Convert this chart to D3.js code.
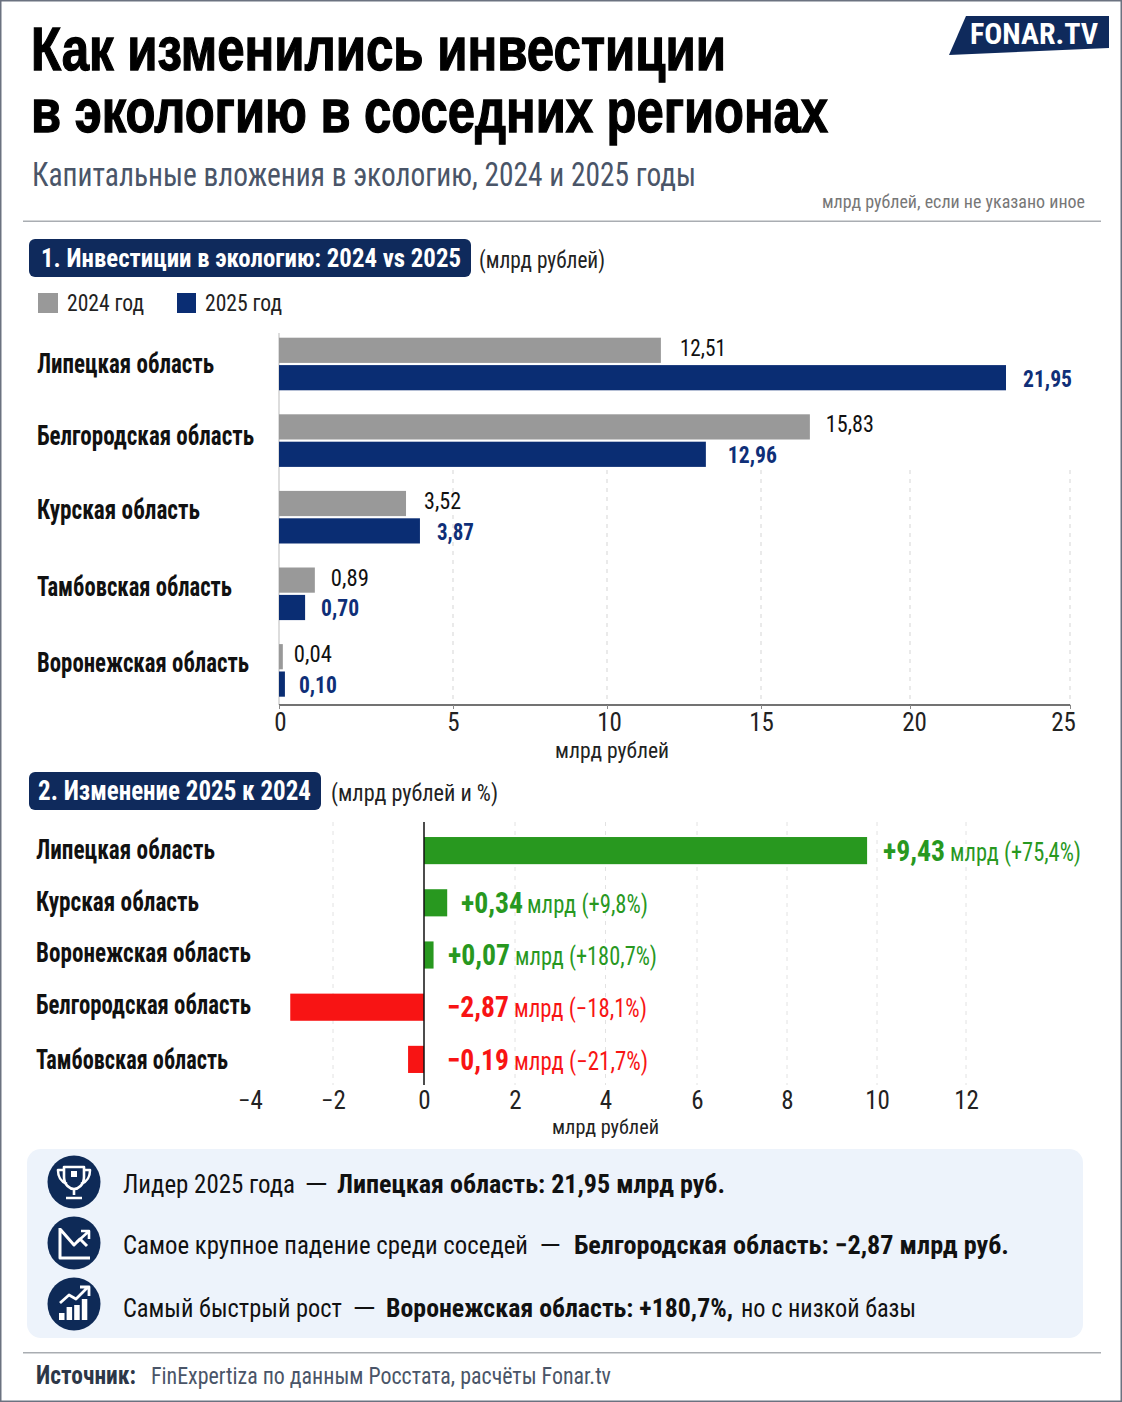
<!DOCTYPE html>
<html lang="ru"><head><meta charset="utf-8">
<script src="https://cdn.jsdelivr.net/npm/d3@7"></script>
<style>html,body{margin:0;background:#fff}svg{display:block}text{font-family:"Liberation Sans Narrow","Arial Narrow","Roboto Condensed","Liberation Sans",sans-serif}</style>
</head><body><div id="c"></div>
<script>
// The reference's bars do not agree with its own axis or printed labels, so each
// bar length is read against the drawn axis and the printed label is kept separately.
const regions1 = ["Липецкая область","Белгородская область","Курская область","Тамбовская область","Воронежская область"];
const bars2024 = [11.75,16.64,3.65,1.03,0.11];
const bars2025 = [23.0,13.21,4.05,0.75,0.17];
const labels2024 = ["12,51","15,83","3,52","0,89","0,04"];
const labels2025 = ["21,95","12,96","3,87","0,70","0,10"];
const ticks1 = [0,5,10,15,20,25];
const regions2 = ["Липецкая область","Курская область","Воронежская область","Белгородская область","Тамбовская область"];
const barsChange = [9.78,0.51,0.21,-3.03,-0.35];
const labelsChange = ["+9,43","+0,34","+0,07","−2,87","−0,19"];
const labelsChangeRest = ["млрд (+75,4%)","млрд (+9,8%)","млрд (+180,7%)","млрд (−18,1%)","млрд (−21,7%)"];
const ticks2 = [-4,-2,0,2,4,6,8,10,12];

const NAVY="#0f2a5c", BAR25="#0a2d73", GREY="#999999", GREEN="#28981f", RED="#f81414";
const svg=d3.select("#c").append("svg").attr("width",1122).attr("height",1402).attr("viewBox","0 0 1122 1402");
svg.append("rect").attr("x",.75).attr("y",.75).attr("width",1120.5).attr("height",1400.5).attr("fill","#fff").attr("stroke","#6b7280").attr("stroke-width",1.5);

function T(p,s,x,y,size,o={}){
  const e=p.append("text").attr("x",x).attr("y",y).attr("font-size",size).attr("font-weight",o.w||400).attr("fill",o.f||"#111").text(s);
  if(o.a)e.attr("text-anchor",o.a);
  if(o.len)e.attr("textLength",o.len).attr("lengthAdjust","spacingAndGlyphs");
  if(o.fam)e.style("font-family",o.fam);
  return e;
}
// header
T(svg,"Как изменились инвестиции",31,70,61,{w:700,f:"#000",len:695,fam:"'Liberation Sans'"}).attr("stroke","#000").attr("stroke-width",1.3);
T(svg,"в экологию в соседних регионах",31,132,61,{w:700,f:"#000",len:797,fam:"'Liberation Sans'"}).attr("stroke","#000").attr("stroke-width",1.3);
T(svg,"Капитальные вложения в экологию, 2024 и 2025 годы",32,186,33,{f:"#4a5568",len:664});
T(svg,"млрд рублей, если не указано иное",822,208,18,{f:"#777",len:263});
svg.append("rect").attr("x",23).attr("y",220.5).attr("width",1078).attr("height",1.5).attr("fill","#a9adb2");
svg.append("path").attr("d","M966 16L1109 16L1109 48L949 55Z").attr("fill",NAVY);
T(svg,"FONAR.TV",970,44,30,{w:700,f:"#fff",len:128});

function pill(x,w,y,s,tx,tw,note,nx,nw,size){
  svg.append("rect").attr("x",x).attr("y",y).attr("width",w).attr("height",38).attr("rx",6).attr("fill",NAVY);
  T(svg,s,tx,y+28,size,{w:700,f:"#fff",len:tw});
  T(svg,note,nx,y+29,24,{f:"#222",len:nw});
}
pill(29,442,239,"1. Инвестиции в экологию: 2024 vs 2025",41,420,"(млрд рублей)",479,126,25.8);
pill(29,292,772,"2. Изменение 2025 к 2024",38,273,"(млрд рублей и %)",331,167,27);

// legend
svg.append("rect").attr("x",38).attr("y",293).attr("width",20).attr("height",20).attr("fill",GREY);
T(svg,"2024 год",67,311,24,{f:"#222",len:77});
svg.append("rect").attr("x",177).attr("y",293).attr("width",19).attr("height",20).attr("fill",BAR25);
T(svg,"2025 год",205,311,24,{f:"#222",len:77});

// chart 1
const x1=d3.scaleLinear().domain(ticks1).range([279,453,607,761,910,1070]);
const y1=d3.scaleBand().domain(regions1).range([325.7,708.7]);
const inner=d3.scaleBand().domain(["a","b"]).range([0,52.6]).paddingInner(0.08).paddingOuter(0);
const off=(y1.bandwidth()-52.6)/2;
const g1=svg.append("g");
g1.selectAll("line.g").data(ticks1.slice(1)).join("line").attr("x1",d=>x1(d)).attr("x2",d=>x1(d)).attr("y1",470).attr("y2",705)
  .attr("stroke","#d5d5d5").attr("stroke-dasharray","4 5");
g1.append("line").attr("x1",279).attr("x2",279).attr("y1",333).attr("y2",705).attr("stroke","#bbb");
function series(vals,labs,key,fill,col,w,gap,dy,len){
  g1.selectAll("rect."+key).data(regions1).join("rect").attr("class",key)
    .attr("x",x1(0)).attr("y",d=>y1(d)+off+inner(key)).attr("height",inner.bandwidth())
    .attr("width",(d,i)=>x1(vals[i])-x1(0)).attr("fill",fill);
  regions1.forEach((r,i)=>T(g1,labs[i],x1(vals[i])+gap[i],y1(r)+off+inner(key)+inner.bandwidth()/2+dy,24,{w,f:col,len:len[i]}));
}
series(bars2024,labels2024,"a",GREY,"#111",400,[19,16,18,16,11],5.5,[46,48,37,38,38]);
series(bars2025,labels2025,"b",BAR25,"#0f2f78",700,[17,22,17,16,14],9,[49,49,37,38,38]);
const rowLen1=[177,217,163,195,212], rowDy1=[-2,-7,-9,-9,-9];
regions1.forEach((r,i)=>T(svg,r,37,y1(r)+off+inner.bandwidth()+12+rowDy1[i],27,{w:700,len:rowLen1[i]}));
const ax1=svg.append("g").attr("transform","translate(0,705)").call(d3.axisBottom(x1).tickValues(ticks1).tickSize(4).tickPadding(4).tickFormat(d=>d));
ax1.selectAll("path").attr("stroke","#444").attr("stroke-width",1.5).attr("d","M279,0H1070");
ax1.selectAll("line").attr("stroke","#888");
ax1.selectAll("text").attr("font-size",25).attr("fill","#222").attr("font-family",null).attr("dx",d=>({0:1,10:2,20:4,25:-7})[d]||0);
T(svg,"млрд рублей",555,758,22,{f:"#222",len:114});

// chart 2
const x2=d3.scaleLinear().domain(ticks2).range([250,333,424,515,605.5,697,787,877,966]);
const y2=d3.scaleBand().domain(regions2).range([824.5,1085.5]).paddingInner(.48).paddingOuter(.24);
const g2=svg.append("g");
g2.selectAll("line").data(ticks2.filter(d=>d>-4&&d!==0)).join("line").attr("x1",d=>x2(d)).attr("x2",d=>x2(d)).attr("y1",822).attr("y2",1085)
  .attr("stroke","#e2e2e2").attr("stroke-dasharray","4 5");
g2.selectAll("rect").data(regions2).join("rect").attr("x",(d,i)=>Math.min(x2(0),x2(barsChange[i]))).attr("y",d=>y2(d)).attr("height",y2.bandwidth())
  .attr("width",(d,i)=>Math.abs(x2(barsChange[i])-x2(0))).attr("fill",(d,i)=>barsChange[i]>=0?GREEN:RED);
g2.append("line").attr("x1",x2(0)).attr("x2",x2(0)).attr("y1",822).attr("y2",1085).attr("stroke","#111").attr("stroke-width",1.5);
const rowLen2=[179,163,215,215,192];
const boldX=[883,461,448,447,447], restX=[950,527,515,514,514], restLen=[131,121,142,133,134];
const rowDy2=[0,0,-1,-1,2];
regions2.forEach((r,i)=>{
  const cy=y2(r)+y2.bandwidth()/2;
  T(svg,r,36,cy+8+rowDy2[i],27,{w:700,len:rowLen2[i]});
  const col=barsChange[i]>=0?GREEN:RED;
  T(svg,labelsChange[i],boldX[i],cy+10+rowDy2[i]*.5,29,{w:700,f:col,len:62});
  T(svg,labelsChangeRest[i],restX[i],cy+10+rowDy2[i]*.5,25,{f:col,len:restLen[i]});
});
const ax2=svg.append("g").attr("transform","translate(0,1087)").call(d3.axisBottom(x2).tickValues(ticks2).tickSize(0).tickPadding(4).tickFormat(d=>String(d).replace("-","−")));
ax2.select("path").remove();
ax2.selectAll("text").attr("font-size",25).attr("fill","#222").attr("font-family",null);
T(svg,"млрд рублей",552,1134,21,{f:"#222",len:107});

// summary panel
svg.append("rect").attr("x",27).attr("y",1149).attr("width",1056).attr("height",189).attr("rx",14).attr("fill","#edf3fb");
const circleY=[1182,1243,1304];
circleY.forEach(cy=>svg.append("circle").attr("cx",74).attr("cy",cy).attr("r",26.5).attr("fill","#0e2a57"));
const icon=(cy,d,sw,fill)=>svg.append("path").attr("transform",`translate(74,${cy})`).attr("d",d).attr("fill",fill||"none").attr("stroke","#fff").attr("stroke-width",sw).attr("stroke-linejoin","round");
icon(1182,"M-10 -15H10V-5C10 3 4 7 0 7C-4 7 -10 3 -10 -5Z",2.6);
icon(1182,"M-10 -12H-16C-16 -3 -12 0 -7 2M10 -12H16C16 -3 12 0 7 2M0 7V13M-8 16H8",2.6);
icon(1182,"M-3 -11H3V-5H-3Z",0,"#fff");
icon(1243,"M-14 -15V15H16M-14 -14L0 2L6 -4L13 3",3);
icon(1243,"M14 -11L3 -1M15 -4V-12H7",2.6);
icon(1304,"M-14 -1L-5 -9L2 -5L14 -17M6 -17H15V-8",2.8);
svg.append("g").attr("transform","translate(74,1304)").selectAll("rect").data([0,1,2,3]).join("rect")
 .attr("x",i=>-15+i*7.6).attr("width",5.5).attr("y",i=>[9,3,1,-5][i]).attr("height",i=>[7,13,15,21][i]).attr("fill","#fff");

const rows=[
 [["Лидер 2025 года",123,172,400],["—",304,24,400],["Липецкая область: 21,95 млрд руб.",337,388,700]],
 [["Самое крупное падение среди соседей",123,405,400],["—",539,22,400],["Белгородская область: −2,87 млрд руб.",574,435,700]],
 [["Самый быстрый рост",123,219,400],["—",352,24,400],["Воронежская область: +180,7%,",386,347,700],["но с низкой базы",741,175,400]]
];
const rowBase=[1193,1254,1317];
rows.forEach((r,i)=>r.forEach(p=>T(svg,p[0],p[1],rowBase[i],p[3]===700?26:25.4,{w:p[3],f:"#111",len:p[2]})));

svg.append("rect").attr("x",23).attr("y",1352).attr("width",1078).attr("height",1.5).attr("fill","#a9adb2");
T(svg,"Источник:",36,1384,25,{w:700,f:"#2d3748",len:100});
T(svg,"FinExpertiza по данным Росстата, расчёты Fonar.tv",151,1384,24,{f:"#4a5568",len:460});
</script></body></html>
